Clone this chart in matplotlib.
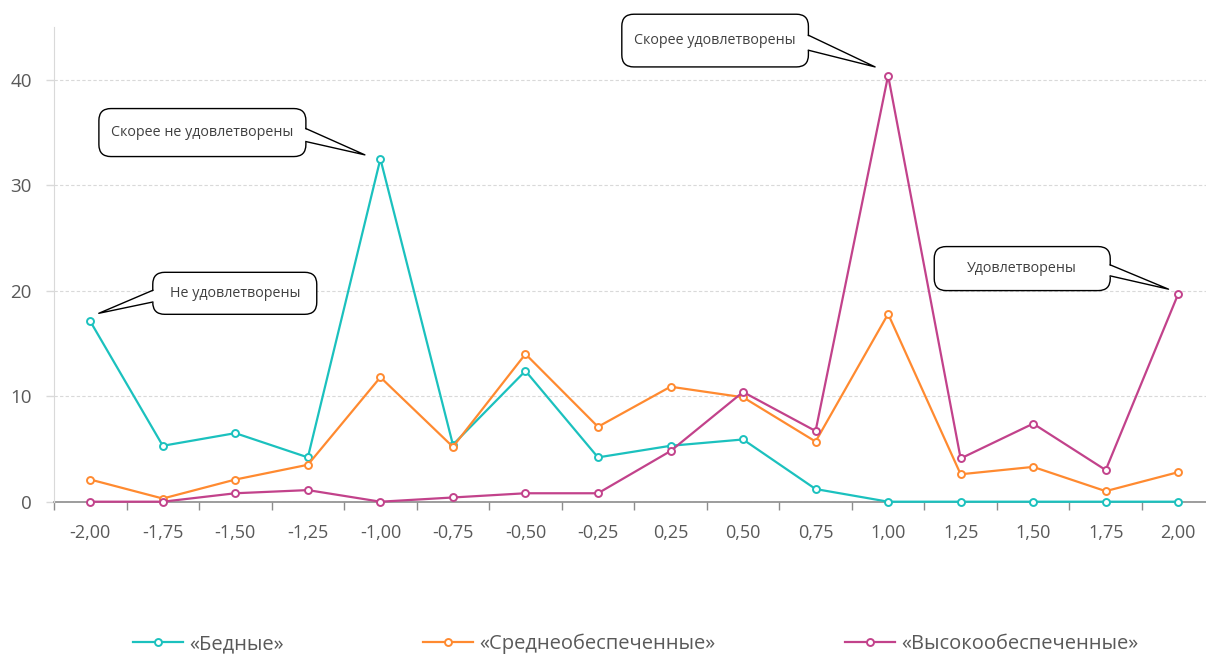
import matplotlib
matplotlib.use('Agg')
import matplotlib.pyplot as plt
import matplotlib.transforms as mtransforms
from matplotlib.patches import FancyBboxPatch, Polygon
from matplotlib.lines import Line2D

plt.rcParams['font.family'] = ['Open Sans', 'DejaVu Sans']

# Satisfaction index on the x axis, share of respondents (%) on the y axis
categories = ['-2,00', '-1,75', '-1,50', '-1,25', '-1,00', '-0,75', '-0,50', '-0,25',
              '0,25', '0,50', '0,75', '1,00', '1,25', '1,50', '1,75', '2,00']
poor = [17.1, 5.3, 6.5, 4.2, 32.5, 5.4, 12.4, 4.2, 5.3, 5.9, 1.2, 0, 0, 0, 0, 0]
middle = [2.1, 0.3, 2.1, 3.5, 11.8, 5.2, 14.0, 7.1, 10.9, 9.9, 5.7, 17.8, 2.6, 3.3, 1.0, 2.8]
wealthy = [0, 0, 0.8, 1.1, 0, 0.4, 0.8, 0.8, 4.8, 10.4, 6.7, 40.4, 4.1, 7.4, 3.0, 19.7]
series_names = ['«Бедные»', '«Среднеобеспеченные»', '«Высокообеспеченные»']
y_ticks = [0, 10, 20, 30, 40]

# callout text -> (series, category index)
callouts = [
    ('Не удовлетворены', poor, 0),
    ('Скорее не удовлетворены', poor, 4),
    ('Скорее удовлетворены', wealthy, 11),
    ('Удовлетворены', wealthy, 15),
]

COLORS = ['#1BC1BE', '#FF8A30', '#C2428B']
TEXT_GRAY = '#595959'
GRID_GRAY = '#D9D9D9'

# box geometry in pixels relative to the marked point: (x0, x1, y0, y1), tip, base y-range, base side
CALLOUT_GEOM = [
    ((62.5, 226.5, 7, 49), (8.5, 8), (19.3, 31), 'left'),
    ((-281.5, -74.5, 2.3, 50.3), (-15.5, 4), (17.3, 30.3), 'right'),
    ((-266.3, -79.7, 8.6, 61.3), (-13, 8.6), (25.3, 40.3), 'right'),
    ((-244, -68, 3.3, 47.3), (-9.7, 4.7), (18, 29), 'right'),
]


def draw_callout(ax, text, xy, geom):
    (x0, x1, y0, y1), tip, (b0, b1), side = geom
    tr = mtransforms.Affine2D().translate(*ax.transData.transform(xy))
    box = FancyBboxPatch((x0, y0), x1 - x0, y1 - y0,
                         boxstyle='round,pad=0,rounding_size=12',
                         fc='white', ec='black', lw=1.0, transform=tr,
                         zorder=5, clip_on=False)
    ax.add_patch(box)
    bx = x0 if side == 'left' else x1
    inset = 2 if side == 'left' else -2
    cover = Polygon([(bx + inset, b0), tip, (bx + inset, b1)], closed=True,
                    fc='white', ec='none', transform=tr, zorder=6, clip_on=False)
    ax.add_patch(cover)
    ax.add_line(Line2D([bx, tip[0], bx], [b1, tip[1], b0], color='black',
                       lw=1.0, transform=tr, zorder=7, clip_on=False))
    ax.text((x0 + x1) / 2, (y0 + y1) / 2, text, transform=tr, ha='center',
            va='center', fontsize=10.3, color='#404040', zorder=8)


fig = plt.figure(figsize=(12.06, 6.57), dpi=100)
ax = fig.add_axes([54 / 1206, 155.3 / 657, 1160.5 / 1206, 474.7 / 657])

x = list(range(len(categories)))
handles = []
for vals, color, name in zip([poor, middle, wealthy], COLORS, series_names):
    h, = ax.plot(x, vals, color=color, lw=1.6, marker='o', ms=5,
                 mfc='white', mec=color, mew=1.4, label=name, zorder=3,
                 clip_on=False)
    handles.append(h)

ax.set_xlim(-0.5, len(categories) - 0.5)
ax.set_ylim(0, 45)
ax.set_yticks(y_ticks)
ax.set_yticklabels([str(v) for v in y_ticks])
ax.set_xticks(x)
ax.set_xticklabels(categories)
ax.set_xticks([i - 0.5 for i in range(len(categories) + 1)], minor=True)

ax.tick_params(axis='x', which='major', length=0, pad=16, labelsize=13, labelcolor=TEXT_GRAY)
ax.tick_params(axis='x', which='minor', length=6, width=1, color='#8C8C8C')
ax.tick_params(axis='y', length=6, width=1, color=GRID_GRAY, pad=10, labelsize=13.5,
               labelcolor=TEXT_GRAY)

ax.grid(axis='y', color=GRID_GRAY, ls=(0, (3, 2)), lw=0.8)
ax.set_axisbelow(True)
for s in ['top', 'right']:
    ax.spines[s].set_visible(False)
ax.spines['left'].set_color(GRID_GRAY)
ax.spines['bottom'].set_color('#8C8C8C')
ax.spines['bottom'].set_linewidth(1.2)
ax.spines['bottom'].set_zorder(2)

for (text, series, idx), geom in zip(callouts, CALLOUT_GEOM):
    draw_callout(ax, text, (idx, series[idx]), geom)

# legend entries spread along the bottom edge
for h, lx in zip(handles, [133, 423, 845]):
    fig.legend(handles=[h], loc='center left', bbox_to_anchor=(lx / 1206, 13 / 657),
               frameon=False, fontsize=14.5, handlelength=2.5, handletextpad=0.3,
               borderpad=0, borderaxespad=0, labelcolor=TEXT_GRAY)

fig.savefig('out.png', dpi=100)
